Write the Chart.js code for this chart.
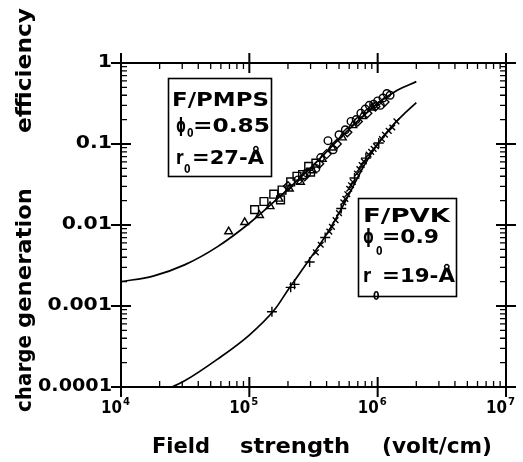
<!DOCTYPE html>
<html>
<head>
<meta charset="utf-8">
<script src="https://cdn.jsdelivr.net/npm/chart.js@4.4.1/dist/chart.umd.min.js"></script>
<style>
  body { margin: 0; background: #fff; }
  canvas { display: block; }
</style>
</head>
<body>
<canvas id="chart" width="523" height="462"></canvas>
<script>
// theory curves
const pmpsCurveX = [1e4, 1.78e4, 3.16e4, 5.62e4, 1e5, 1.78e5, 3.16e5, 5.62e5, 1e6, 1.41e6, 2.0e6];
const pmpsCurveY = [0.0020, 0.00234, 0.00324, 0.00537, 0.0105, 0.0234, 0.055, 0.138, 0.316, 0.457, 0.589];
const pvkCurveX = [2.0e4, 3.16e4, 5.62e4, 1e5, 1.58e5, 2.0e5, 2.51e5, 3.98e5, 5.01e5, 6.31e5, 7.94e5, 1e6, 1.26e6, 1.58e6, 2.0e6];
const pvkCurveY = [8.5e-5, 1.2e-4, 2.19e-4, 4.37e-4, 9.1e-4, 1.58e-3, 2.63e-3, 7.6e-3, 0.0141, 0.0282, 0.0562, 0.100, 0.158, 0.229, 0.324];

// F/PMPS measurements
const triX = [6.9e4, 9.2e4, 1.2e5, 1.45e5, 1.7e5, 2.05e5, 2.5e5, 3.1e5, 3.7e5, 4.4e5, 5.3e5, 6.4e5, 7.6e5, 9.0e5];
const triY = [0.0083, 0.0108, 0.0132, 0.017, 0.021, 0.028, 0.034, 0.047, 0.065, 0.09, 0.12, 0.17, 0.22, 0.28];
const sqX = [1.1e5, 1.3e5, 1.55e5, 1.75e5, 1.8e5, 2.1e5, 2.35e5, 2.6e5, 2.9e5, 3.0e5, 3.3e5];
const sqY = [0.0155, 0.0195, 0.024, 0.0204, 0.027, 0.034, 0.04, 0.042, 0.053, 0.045, 0.058];
const circX = [2.4e5, 2.8e5, 3.3e5, 3.6e5, 4.1e5, 4.5e5, 5.0e5, 5.6e5, 6.2e5, 6.8e5, 7.4e5, 8.0e5, 8.6e5, 9.3e5, 1.0e6, 1.05e6, 1.1e6, 1.18e6, 1.25e6];
const circY = [0.036, 0.044, 0.05, 0.068, 0.11, 0.085, 0.13, 0.15, 0.19, 0.2, 0.24, 0.27, 0.3, 0.31, 0.34, 0.3, 0.37, 0.42, 0.4];
const diaX = [2.0e5, 2.7e5, 3.5e5, 4.0e5, 4.8e5, 5.8e5, 7.0e5, 8.3e5, 9.6e5, 1.13e6];
const diaY = [0.03, 0.04, 0.057, 0.075, 0.1, 0.14, 0.19, 0.24, 0.29, 0.33];

// F/PVK measurements
const pvkPlusX = [1.5e5, 2.1e5, 2.25e5, 2.95e5, 3.9e5, 5.2e5, 6.6e5, 8.1e5, 1.02e6];
const pvkPlusY = [8.5e-4, 1.7e-3, 1.85e-3, 3.5e-3, 7.0e-3, 0.016, 0.038, 0.067, 0.103];
const pvkCrossX = [3.3e5, 3.6e5, 4.2e5, 4.4e5, 4.7e5, 5.0e5, 5.4e5, 5.6e5, 5.8e5, 6.0e5, 6.2e5, 6.4e5, 6.9e5, 7.2e5, 7.5e5, 7.8e5, 8.5e5, 8.9e5, 9.3e5, 9.7e5, 1.08e6, 1.14e6, 1.22e6, 1.3e6, 1.4e6];
const pvkCrossY = [4.6e-3, 5.7e-3, 8.3e-3, 9.5e-3, 0.0115, 0.014, 0.019, 0.021, 0.024, 0.028, 0.031, 0.034, 0.043, 0.049, 0.055, 0.061, 0.074, 0.080, 0.087, 0.094, 0.115, 0.13, 0.145, 0.16, 0.19];

// axes
const xTickValues = [1e4, 1e5, 1e6, 1e7];
const xTickExponents = ['4', '5', '6', '7'];
const yTickValues = [1e-4, 1e-3, 1e-2, 1e-1, 1];
const yTickLabels = ['0.0001', '0.001', '0.01', '0.1', '1'];

function pts(xs, ys) {
    return xs.map((x, i) => ({ x: x, y: ys[i] }));
}

function fitText(ctx, text, x, y, w) {
    ctx.save();
    ctx.translate(x, y);
    const m = ctx.measureText(text).width;
    ctx.scale(w / m, 1);
    ctx.textAlign = 'left';
    ctx.fillText(text, 0, 0);
    ctx.restore();
}

function minorTicks(majors) {
    const out = [];
    for (let i = 0; i < majors.length - 1; i++) {
        for (let k = 2; k <= 9; k++) out.push(majors[i] * k);
    }
    return out;
}

const BOLD = "'DejaVu Sans', 'Liberation Sans', sans-serif";

const framePlugin = {
    id: 'frame',
    afterDatasetsDraw(chart) {
        const ctx = chart.ctx;
        const xs = chart.scales.x, ys = chart.scales.y;
        const L = xs.getPixelForValue(xTickValues[0]);
        const R = xs.getPixelForValue(xTickValues[xTickValues.length - 1]);
        const B = ys.getPixelForValue(yTickValues[0]);
        const T = ys.getPixelForValue(yTickValues[yTickValues.length - 1]);
        ctx.save();
        ctx.strokeStyle = '#000';
        ctx.fillStyle = '#000';
        ctx.lineWidth = 2;
        ctx.strokeRect(L, T, R - L, B - T);

        ctx.beginPath();
        xTickValues.forEach(v => {
            const px = xs.getPixelForValue(v);
            ctx.moveTo(px, B - 10); ctx.lineTo(px, B + 10);
            ctx.moveTo(px, T - 10); ctx.lineTo(px, T + 10);
        });
        yTickValues.forEach(v => {
            const py = ys.getPixelForValue(v);
            ctx.moveTo(L - 10, py); ctx.lineTo(L + 10, py);
            ctx.moveTo(R - 10, py); ctx.lineTo(R + 10, py);
        });
        ctx.stroke();

        ctx.lineWidth = 1.3;
        ctx.beginPath();
        minorTicks(xTickValues).forEach(v => {
            const px = xs.getPixelForValue(v);
            ctx.moveTo(px, B); ctx.lineTo(px, B - 6);
            ctx.moveTo(px, T); ctx.lineTo(px, T + 6);
        });
        minorTicks(yTickValues).forEach(v => {
            const py = ys.getPixelForValue(v);
            ctx.moveTo(L, py); ctx.lineTo(L + 6, py);
            ctx.moveTo(R, py); ctx.lineTo(R - 6, py);
        });
        ctx.stroke();

        // y tick labels
        ctx.font = 'bold 17px ' + BOLD;
        ctx.textBaseline = 'middle';
        yTickValues.forEach((v, i) => {
            const py = ys.getPixelForValue(v);
            const w = Math.min(ctx.measureText(yTickLabels[i]).width * 1.2, 74);
            fitText(ctx, yTickLabels[i], 112 - w, py, w);
        });

        // x tick labels 10^n
        ctx.textBaseline = 'alphabetic';
        xTickValues.forEach((v, i) => {
            const px = xs.getPixelForValue(v);
            ctx.font = 'bold 18px ' + BOLD;
            fitText(ctx, '10', px - 20, 413, 21);
            ctx.font = 'bold 11px ' + BOLD;
            fitText(ctx, xTickExponents[i], px + 2, 405, 7);
        });

        // x title
        ctx.font = 'bold 21px ' + BOLD;
        fitText(ctx, 'Field', 152, 453, 58);
        fitText(ctx, 'strength', 240, 453, 110);
        fitText(ctx, '(volt/cm)', 382, 453, 110);

        // y title
        ctx.font = 'bold 22px ' + BOLD;
        [['charge', 412, 77], ['generation', 328, 140], ['efficiency', 133, 125]].forEach(t => {
            ctx.save();
            ctx.translate(31, t[1]);
            ctx.rotate(-Math.PI / 2);
            fitText(ctx, t[0], 0, 0, t[2]);
            ctx.restore();
        });

        // parameter boxes
        ctx.lineWidth = 1.6;
        ctx.strokeRect(168.5, 78.5, 103, 98);
        ctx.strokeRect(358.5, 198.5, 98, 98);

        ctx.font = 'bold 20px ' + BOLD;
        fitText(ctx, 'F/PMPS', 172, 106, 97);
        fitText(ctx, '\u03D5', 176, 132, 10);
        fitText(ctx, '=0.85', 193, 132, 77);
        fitText(ctx, 'r', 176, 164, 7.5);
        fitText(ctx, '=27-\u00C5', 192, 164, 72);

        fitText(ctx, 'F/PVK', 363, 222, 87);
        fitText(ctx, '\u03D5', 363, 243, 11);
        fitText(ctx, '=0.9', 382, 243, 57);
        fitText(ctx, 'r', 363, 282, 8);
        fitText(ctx, '=19-\u00C5', 382, 282, 73);

        ctx.font = 'bold 12px ' + BOLD;
        fitText(ctx, '0', 187, 137, 6.5);
        fitText(ctx, '0', 184, 173, 6.5);
        fitText(ctx, '0', 376, 255, 6.5);
        fitText(ctx, '0', 373, 300, 6.5);
        ctx.restore();
    }
};

const marker = {
    showLine: false,
    backgroundColor: 'rgba(0,0,0,0)',
    borderColor: '#000',
    borderWidth: 1.4,
    pointBackgroundColor: 'rgba(0,0,0,0)',
    pointBorderColor: '#000',
    pointBorderWidth: 1.4
};

const curve = {
    showLine: true,
    pointRadius: 0,
    borderColor: '#000',
    borderWidth: 1.7,
    cubicInterpolationMode: 'monotone',
    fill: false
};

new Chart(document.getElementById('chart'), {
    type: 'scatter',
    data: {
        datasets: [
            Object.assign({ label: 'PMPS fit', data: pts(pmpsCurveX, pmpsCurveY) }, curve),
            Object.assign({ label: 'PVK fit', data: pts(pvkCurveX, pvkCurveY) }, curve),
            Object.assign({ label: 'PMPS tri', data: pts(triX, triY), pointStyle: 'triangle', pointRadius: 4.5 }, marker),
            Object.assign({ label: 'PMPS sq', data: pts(sqX, sqY), pointStyle: 'rect', pointRadius: 5.5 }, marker),
            Object.assign({ label: 'PMPS circ', data: pts(circX, circY), pointStyle: 'circle', pointRadius: 3.8 }, marker),
            Object.assign({ label: 'PMPS dia', data: pts(diaX, diaY), pointStyle: 'rectRot', pointRadius: 4.5 }, marker),
            Object.assign({ label: 'PVK plus', data: pts(pvkPlusX, pvkPlusY), pointStyle: 'cross', pointRadius: 5 }, marker),
            Object.assign({ label: 'PVK x', data: pts(pvkCrossX, pvkCrossY), pointStyle: 'crossRot', pointRadius: 4 }, marker)
        ]
    },
    options: {
        responsive: false,
        devicePixelRatio: 1,
        animation: false,
        layout: { padding: { left: 121, top: 63, right: 17, bottom: 75 } },
        scales: {
            x: { type: 'logarithmic', min: 1e4, max: 1e7, display: false },
            y: { type: 'logarithmic', min: 1e-4, max: 1, display: false }
        },
        plugins: { legend: { display: false }, tooltip: { enabled: false } }
    },
    plugins: [framePlugin]
});
</script>
</body>
</html>
